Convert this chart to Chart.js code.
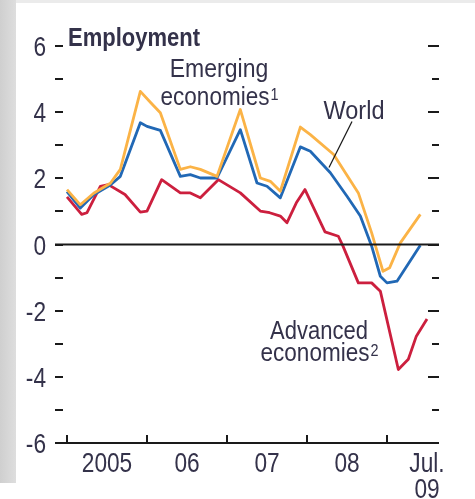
<!DOCTYPE html>
<html>
<head>
<meta charset="utf-8">
<script src="https://cdn.jsdelivr.net/npm/chart.js@4/dist/chart.umd.min.js"></script>
<style>
  html, body { margin: 0; padding: 0; background: #ffffff; }
  #wrap { position: relative; width: 475px; height: 499px; overflow: hidden; background: #ffffff; }
  #topband { position: absolute; left: 0; top: 0; width: 475px; height: 3px; background: #ebebeb; }
  #leftband { position: absolute; left: 0; top: 0; width: 16px; height: 483px; background: linear-gradient(to right, #cfcfcf, #dedede); }
  #chart { position: absolute; left: 0; top: 0; }
</style>
</head>
<body>
<div id="wrap">
  <div id="topband"></div>
  <div id="leftband"></div>
  <canvas id="chart" width="475" height="499"></canvas>
</div>
<script>
// months counted from Jan. 2005
const yearStarts = [0, 12, 24, 36, 48];
const tickMonths = [6, 18, 30, 42, 54];
const tickLabels = ['2005', '06', '07', '08', ['Jul.', '09']];
const yTickValues = [-6, -4, -2, 0, 2, 4, 6];

const worldMonths = [0, 2, 4, 6.5, 8, 11, 12, 14, 17, 18.5, 20, 22.5, 26, 28.5, 30, 32, 35, 36.5, 39.5, 42, 44, 45.7, 47, 48, 49.5, 53];
const worldValues = [1.6, 1.1, 1.5, 1.8, 2.06, 3.68, 3.57, 3.45, 2.06, 2.11, 2.01, 2.01, 3.47, 1.86, 1.76, 1.41, 2.95, 2.82, 2.17, 1.46, 0.86, -0.05, -0.96, -1.16, -1.11, -0.02];

const emergingMonths = [0, 2, 4, 6.5, 8, 11, 12.5, 14, 17, 18.5, 20, 22.5, 26, 29, 30.5, 32, 35, 36.5, 40, 43.7, 45.7, 47.4, 48.4, 50, 53];
const emergingValues = [1.66, 1.2, 1.55, 1.85, 2.27, 4.63, 4.3, 3.98, 2.27, 2.35, 2.27, 2.06, 4.08, 2.01, 1.91, 1.61, 3.55, 3.32, 2.72, 1.56, 0.35, -0.81, -0.7, 0.05, 0.91];

const advancedMonths = [0, 2.2, 3, 5, 6.2, 8.7, 11, 12, 14.2, 17, 18.5, 20, 22.7, 26, 29, 30.4, 32, 33, 34.4, 35.7, 38.7, 40.7, 41.4, 43.7, 45.7, 47, 49.7, 51.2, 52.4, 54];
const advancedValues = [1.44, 0.91, 0.96, 1.76, 1.81, 1.51, 0.98, 1.01, 1.96, 1.56, 1.56, 1.41, 1.96, 1.56, 1.01, 0.96, 0.86, 0.66, 1.26, 1.66, 0.38, 0.25, -0.05, -1.16, -1.16, -1.41, -3.78, -3.47, -2.77, -2.25];

const FONT = "'Liberation Sans', Arial, sans-serif";
const TEXT = '#34324a';

function toPoints(months, values) {
    return months.map((m, i) => ({ x: m, y: values[i] }));
}

// condensed text: Liberation Sans squeezed horizontally
function drawText(ctx, text, x, y, size, sx, align, bold) {
    ctx.save();
    ctx.font = (bold ? 'bold ' : '') + size + 'px ' + FONT;
    const w = ctx.measureText(text).width * sx;
    let left = x;
    if (align === 'center') left = x - w / 2;
    if (align === 'right') left = x - w;
    ctx.translate(left, y);
    ctx.scale(sx, 1);
    ctx.textAlign = 'left';
    ctx.textBaseline = 'alphabetic';
    ctx.fillText(text, 0, 0);
    ctx.restore();
    return w;
}

const decorations = {
    id: 'decorations',
    afterDatasetsDraw(chart) {
        const ctx = chart.ctx;
        const xs = chart.scales.x;
        const ys = chart.scales.y;
        const area = chart.chartArea;
        ctx.save();
        ctx.strokeStyle = '#1a1a1a';
        ctx.lineWidth = 2;

        // inward tick marks, both sides
        for (let v = -6; v <= 6; v++) {
            const py = Math.round(ys.getPixelForValue(v));
            ctx.beginPath();
            ctx.moveTo(area.left, py);
            ctx.lineTo(area.left + 8, py);
            const len = v % 2 === 0 ? 11 : 7;
            ctx.moveTo(area.right - len, py);
            ctx.lineTo(area.right, py);
            ctx.stroke();
        }

        const y0 = ys.getPixelForValue(0);
        ctx.beginPath();
        ctx.moveTo(area.left, y0);
        ctx.lineTo(area.right, y0);
        ctx.stroke();

        const yb = ys.getPixelForValue(-6);
        ctx.beginPath();
        ctx.moveTo(area.left, yb);
        ctx.lineTo(area.right, yb);
        yearStarts.forEach(m => {
            const px = Math.round(xs.getPixelForValue(m));
            ctx.moveTo(px, yb);
            ctx.lineTo(px, yb - 8);
        });
        ctx.stroke();

        // World leader line
        ctx.lineWidth = 1.2;
        ctx.beginPath();
        ctx.moveTo(xs.getPixelForValue(42.75), ys.getPixelForValue(3.72));
        ctx.lineTo(xs.getPixelForValue(39.3), ys.getPixelForValue(2.33));
        ctx.stroke();

        ctx.fillStyle = TEXT;

        // axis labels
        yTickValues.forEach(v => {
            drawText(ctx, String(v), area.left - 9, ys.getPixelForValue(v) + 10, 27, 0.84, 'right');
        });
        tickMonths.forEach((m, i) => {
            const lab = tickLabels[i];
            const lines = Array.isArray(lab) ? lab : [lab];
            const px = xs.getPixelForValue(m);
            lines.forEach((t, j) => {
                drawText(ctx, t, px, yb + 29 + j * 26, 27, 0.84, 'center');
            });
        });

        // title and series labels
        drawText(ctx, 'Employment', xs.getPixelForValue(0.15), ys.getPixelForValue(6.0), 26.5, 0.83, 'left', true);

        const ex = xs.getPixelForValue(22.8);
        drawText(ctx, 'Emerging', ex, ys.getPixelForValue(5.05), 25, 0.92, 'center');
        const w1 = drawText(ctx, 'economies', ex - 4, ys.getPixelForValue(4.23), 25, 0.9, 'center');
        drawText(ctx, '1', ex - 4 + w1 / 2 + 1, ys.getPixelForValue(4.38), 16, 0.9, 'left');

        drawText(ctx, 'World', xs.getPixelForValue(43.05), ys.getPixelForValue(3.8), 25, 0.94, 'center');

        const ax = xs.getPixelForValue(37.8);
        drawText(ctx, 'Advanced', ax, ys.getPixelForValue(-2.87), 25, 0.88, 'center');
        const w2 = drawText(ctx, 'economies', ax - 4, ys.getPixelForValue(-3.53), 25, 0.9, 'center');
        drawText(ctx, '2', ax - 4 + w2 / 2 + 1, ys.getPixelForValue(-3.38), 16, 0.9, 'left');
        ctx.restore();
    }
};

new Chart(document.getElementById('chart'), {
    type: 'line',
    data: {
        datasets: [
            { label: 'Emerging economies', data: toPoints(emergingMonths, emergingValues), borderColor: '#fbb346', borderWidth: 2.8 },
            { label: 'World', data: toPoints(worldMonths, worldValues), borderColor: '#2168b5', borderWidth: 2.8 },
            { label: 'Advanced economies', data: toPoints(advancedMonths, advancedValues), borderColor: '#cc1f3e', borderWidth: 2.8 }
        ]
    },
    options: {
        responsive: false,
        devicePixelRatio: 1,
        animation: false,
        layout: { padding: { top: 46, right: 36, left: 0, bottom: 0 } },
        elements: { point: { radius: 0 }, line: { tension: 0, borderJoinStyle: 'round' } },
        plugins: { legend: { display: false }, tooltip: { enabled: false } },
        scales: {
            x: {
                type: 'linear',
                min: -1.8,
                max: 55.8,
                grid: { display: false },
                border: { display: false },
                afterBuildTicks: scale => { scale.ticks = tickMonths.map(v => ({ value: v })); },
                afterFit: scale => { scale.height = 56; },
                ticks: { display: false }
            },
            y: {
                min: -6,
                max: 6,
                grid: { display: false },
                border: { display: false },
                afterFit: scale => { scale.width = 55; },
                ticks: { display: false, stepSize: 2 }
            }
        }
    },
    plugins: [decorations]
});
</script>
</body>
</html>
